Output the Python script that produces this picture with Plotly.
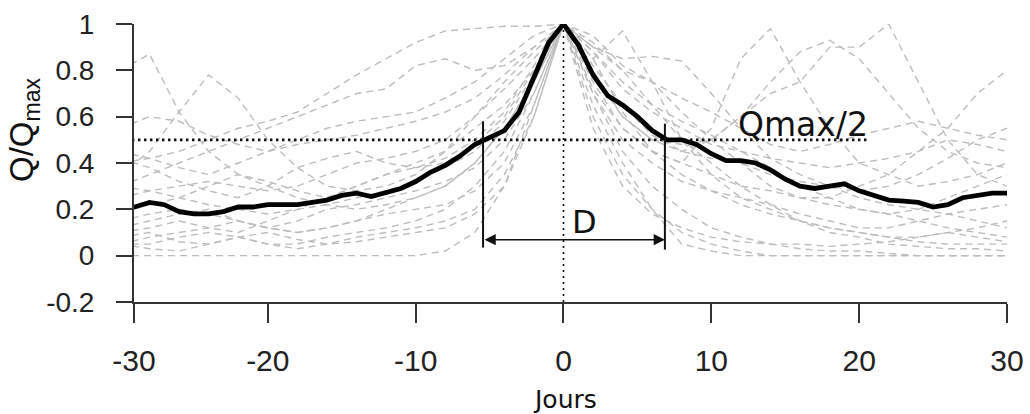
import plotly.graph_objects as go

# ---------------- data ----------------
days_mean = list(range(-30, 31))
mean_q = [0.20, 0.21, 0.23, 0.22, 0.19, 0.18, 0.18, 0.19, 0.21, 0.21,
          0.22, 0.22, 0.22, 0.23, 0.24, 0.26, 0.27, 0.255, 0.27, 0.29,
          0.32, 0.36, 0.39, 0.43, 0.48, 0.51, 0.54, 0.62, 0.77, 0.92,
          1.00,
          0.91, 0.78, 0.69, 0.65, 0.60, 0.54, 0.50, 0.50, 0.48, 0.44,
          0.41, 0.41, 0.40, 0.37, 0.33, 0.30, 0.29, 0.30, 0.31, 0.28,
          0.26, 0.24, 0.235, 0.23, 0.21, 0.22, 0.25, 0.26, 0.27, 0.27]

days_evt = list(range(-30, 31, 2))
evt01 = [0.80, 0.87, 0.62, 0.45, 0.35, 0.30, 0.25, 0.22, 0.20, 0.22, 0.25, 0.30, 0.40, 0.55, 0.75, 1.0, 0.70, 0.45, 0.30, 0.20, 0.12, 0.08, 0.05, 0.03, 0.02, 0.02, 0.01, 0.0, 0.0, 0.0, 0.0]
evt02 = [0.35, 0.45, 0.62, 0.78, 0.68, 0.50, 0.38, 0.30, 0.28, 0.30, 0.35, 0.45, 0.60, 0.75, 0.88, 1.0, 0.85, 0.62, 0.45, 0.35, 0.28, 0.22, 0.18, 0.15, 0.12, 0.10, 0.08, 0.08, 0.10, 0.12, 0.15]
evt03 = [0.20, 0.22, 0.25, 0.22, 0.20, 0.18, 0.20, 0.22, 0.25, 0.28, 0.32, 0.38, 0.45, 0.58, 0.78, 1.0, 0.78, 0.60, 0.50, 0.48, 0.50, 0.60, 0.75, 0.88, 0.93, 0.85, 0.70, 0.55, 0.45, 0.40, 0.38]
evt04 = [0.40, 0.42, 0.45, 0.50, 0.55, 0.58, 0.62, 0.70, 0.78, 0.85, 0.92, 0.97, 0.98, 0.99, 0.99, 1.0, 0.90, 0.80, 0.75, 0.62, 0.50, 0.40, 0.30, 0.25, 0.22, 0.20, 0.18, 0.20, 0.25, 0.30, 0.35]
evt05 = [0.10, 0.12, 0.15, 0.12, 0.10, 0.15, 0.20, 0.25, 0.30, 0.35, 0.40, 0.45, 0.55, 0.65, 0.80, 1.0, 0.80, 0.60, 0.50, 0.45, 0.50, 0.60, 0.70, 0.75, 0.90, 0.90, 1.00, 0.75, 0.50, 0.35, 0.30]
evt06 = [0.05, 0.08, 0.10, 0.12, 0.15, 0.12, 0.10, 0.12, 0.15, 0.20, 0.25, 0.30, 0.40, 0.55, 0.75, 1.0, 0.75, 0.55, 0.45, 0.40, 0.55, 0.85, 0.98, 0.75, 0.55, 0.40, 0.35, 0.30, 0.32, 0.35, 0.40]
evt07 = [0.05, 0.05, 0.08, 0.10, 0.08, 0.05, 0.05, 0.08, 0.10, 0.12, 0.15, 0.20, 0.30, 0.45, 0.70, 1.0, 0.85, 0.97, 0.75, 0.50, 0.35, 0.25, 0.20, 0.15, 0.12, 0.10, 0.08, 0.06, 0.05, 0.05, 0.05]
evt08 = [0.25, 0.28, 0.30, 0.32, 0.30, 0.28, 0.30, 0.35, 0.40, 0.42, 0.45, 0.50, 0.60, 0.72, 0.85, 1.0, 0.90, 0.85, 0.86, 0.84, 0.70, 0.55, 0.42, 0.35, 0.30, 0.25, 0.22, 0.20, 0.18, 0.15, 0.12]
evt09 = [0.15, 0.18, 0.20, 0.18, 0.15, 0.12, 0.15, 0.20, 0.22, 0.25, 0.28, 0.32, 0.38, 0.50, 0.70, 1.0, 0.72, 0.55, 0.45, 0.40, 0.35, 0.30, 0.28, 0.25, 0.25, 0.30, 0.35, 0.45, 0.55, 0.70, 0.80]
evt10 = [0.0, 0.0, 0.0, 0.0, 0.0, 0.0, 0.0, 0.0, 0.0, 0.0, 0.0, 0.02, 0.10, 0.30, 0.65, 1.0, 0.60, 0.35, 0.20, 0.10, 0.05, 0.02, 0.0, 0.0, 0.0, 0.0, 0.0, 0.0, 0.0, 0.0, 0.0]
evt11 = [0.08, 0.10, 0.06, 0.05, 0.08, 0.10, 0.07, 0.05, 0.06, 0.08, 0.10, 0.12, 0.18, 0.30, 0.60, 1.0, 0.55, 0.30, 0.18, 0.12, 0.08, 0.06, 0.05, 0.05, 0.04, 0.05, 0.06, 0.08, 0.10, 0.08, 0.06]
evt12 = [0.45, 0.42, 0.38, 0.35, 0.40, 0.45, 0.48, 0.50, 0.52, 0.55, 0.58, 0.62, 0.68, 0.78, 0.90, 1.0, 0.88, 0.72, 0.62, 0.55, 0.48, 0.45, 0.42, 0.40, 0.38, 0.40, 0.42, 0.45, 0.50, 0.48, 0.45]
evt13 = [0.30, 0.35, 0.40, 0.45, 0.50, 0.55, 0.60, 0.65, 0.70, 0.72, 0.82, 0.85, 0.80, 0.82, 0.90, 1.0, 0.88, 0.75, 0.65, 0.58, 0.52, 0.45, 0.38, 0.30, 0.25, 0.20, 0.18, 0.15, 0.12, 0.10, 0.08]
evt14 = [0.12, 0.15, 0.18, 0.20, 0.15, 0.12, 0.10, 0.12, 0.15, 0.18, 0.20, 0.22, 0.28, 0.40, 0.65, 1.0, 0.70, 0.50, 0.40, 0.32, 0.28, 0.25, 0.22, 0.18, 0.15, 0.12, 0.12, 0.15, 0.18, 0.20, 0.22]
evt15 = [0.30, 0.28, 0.25, 0.30, 0.35, 0.32, 0.28, 0.25, 0.30, 0.35, 0.38, 0.42, 0.50, 0.62, 0.82, 1.0, 0.92, 0.80, 0.65, 0.50, 0.40, 0.30, 0.22, 0.15, 0.10, 0.08, 0.05, 0.04, 0.03, 0.03, 0.02]
evt16 = [0.05, 0.03, 0.02, 0.05, 0.08, 0.05, 0.03, 0.05, 0.08, 0.10, 0.12, 0.15, 0.20, 0.35, 0.60, 1.0, 0.65, 0.40, 0.20, 0.05, 0.02, 0.0, 0.0, 0.0, 0.0, 0.0, 0.0, 0.0, 0.0, 0.0, 0.0]
evt17 = [0.55, 0.60, 0.58, 0.52, 0.48, 0.45, 0.50, 0.55, 0.58, 0.60, 0.62, 0.68, 0.75, 0.85, 0.95, 1.0, 0.95, 0.82, 0.75, 0.68, 0.62, 0.55, 0.48, 0.45, 0.48, 0.52, 0.55, 0.58, 0.55, 0.52, 0.50]
evt18 = [0.42, 0.38, 0.32, 0.28, 0.25, 0.30, 0.38, 0.42, 0.45, 0.40, 0.38, 0.40, 0.48, 0.60, 0.80, 1.0, 0.82, 0.65, 0.52, 0.45, 0.42, 0.40, 0.35, 0.32, 0.30, 0.28, 0.30, 0.35, 0.42, 0.50, 0.55]
events = [evt01, evt02, evt03, evt04, evt05, evt06, evt07, evt08, evt09,
          evt10, evt11, evt12, evt13, evt14, evt15, evt16, evt17, evt18]

half_level = 0.5
half_line_end = 20.7
d_left = -5.44
d_right = 6.86
d_left_span = [0.035, 0.58]
d_right_span = [0.026, 0.57]
d_arrow_y = 0.069

# the reference's axis starts a little after day -30, where its "-30" label sits
x_axis_start = -29.05
x_ticks = [x_axis_start, -20, -10, 0, 10, 20, 30]
x_ticklabels = ["-30", "-20", "-10", "0", "10", "20", "30"]
y_ticks = [-0.2, 0, 0.2, 0.4, 0.6, 0.8, 1]
y_ticklabels = ["-0.2", "0", "0.2", "0.4", "0.6", "0.8", "1"]

# ---------------- figure ----------------
fig = go.Figure()

for ev in events:
    fig.add_trace(go.Scatter(x=days_evt, y=ev, mode="lines",
                             line=dict(color="#bdbdbd", width=1.4, dash="7px,5px"),
                             hoverinfo="skip", showlegend=False))

# horizontal Qmax/2 dotted line
fig.add_trace(go.Scatter(x=[-30, half_line_end], y=[half_level, half_level], mode="lines",
                         line=dict(color="#111111", width=2.6, dash="2.5px,3.5px"),
                         showlegend=False, hoverinfo="skip"))
# vertical dotted line at 0
fig.add_trace(go.Scatter(x=[0, 0], y=[1, -0.2], mode="lines",
                         line=dict(color="#111111", width=1.6, dash="2px,4px"),
                         showlegend=False, hoverinfo="skip"))

# mean curve
fig.add_trace(go.Scatter(x=days_mean, y=mean_q, mode="lines",
                         line=dict(color="#000000", width=4.8),
                         showlegend=False, hoverinfo="skip"))

# D bars
fig.add_trace(go.Scatter(x=[d_left, d_left], y=d_left_span, mode="lines",
                         line=dict(color="#111111", width=2), showlegend=False, hoverinfo="skip"))
fig.add_trace(go.Scatter(x=[d_right, d_right], y=d_right_span, mode="lines",
                         line=dict(color="#111111", width=2), showlegend=False, hoverinfo="skip"))

# double arrow
fig.add_annotation(x=d_right, y=d_arrow_y, ax=d_left, ay=d_arrow_y,
                   xref="x", yref="y", axref="x", ayref="y",
                   showarrow=True, arrowhead=2, startarrowhead=2, arrowside="end+start",
                   arrowsize=1.6, startarrowsize=1.6, arrowwidth=1.4, arrowcolor="#111111", text="")

fig.add_annotation(x=1.4, y=0.145, xref="x", yref="y", text="D", showarrow=False,
                   font=dict(family="DejaVu Sans", size=32, color="#111111"))
fig.add_annotation(x=16.2, y=0.565, xref="x", yref="y", text="Qmax/2", showarrow=False,
                   font=dict(family="DejaVu Sans", size=33, color="#111111"))

# axis titles
fig.add_annotation(x=(24 - 134) / 873, y=(302 - 130) / 278, xref="paper", yref="paper",
                   text="Q/Q<sub>max</sub>", textangle=-90, showarrow=False,
                   xanchor="center", yanchor="middle",
                   font=dict(family="Liberation Sans, Arial", size=33, color="#111111"))
fig.add_annotation(x=(565 - 134) / 873, y=(302 - 399) / 278, xref="paper", yref="paper",
                   text="Jours", showarrow=False, xanchor="center", yanchor="middle",
                   font=dict(family="DejaVu Sans", size=25, color="#111111"))

fig.update_layout(
    width=1030, height=414,
    margin=dict(l=134, r=23, t=24, b=112, autoexpand=False),
    plot_bgcolor="white", paper_bgcolor="white",
    xaxis=dict(range=[x_axis_start, 30], tickvals=x_ticks, ticktext=x_ticklabels, automargin=False,
               showgrid=False, zeroline=False, showline=True, linecolor="#333333", linewidth=2,
               ticks="outside", ticklen=19, tickwidth=2, tickcolor="#333333",
               ticklabelstandoff=12,
               tickfont=dict(family="Liberation Sans, Arial", size=30, color="#222222")),
    yaxis=dict(range=[-0.2, 1], tickvals=y_ticks, ticktext=y_ticklabels, automargin=False,
               showgrid=False, zeroline=False, showline=True, linecolor="#333333", linewidth=2,
               ticks="outside", ticklen=16, tickwidth=2, tickcolor="#333333",
               ticklabelstandoff=16,
               tickfont=dict(family="Liberation Sans, Arial", size=28, color="#222222")),
)

fig.write_html("out.html", config={"displayModeBar": False},
               post_script="document.body.style.margin='0px';document.body.style.padding='0px';"
                           "document.body.style.overflow='hidden';")
